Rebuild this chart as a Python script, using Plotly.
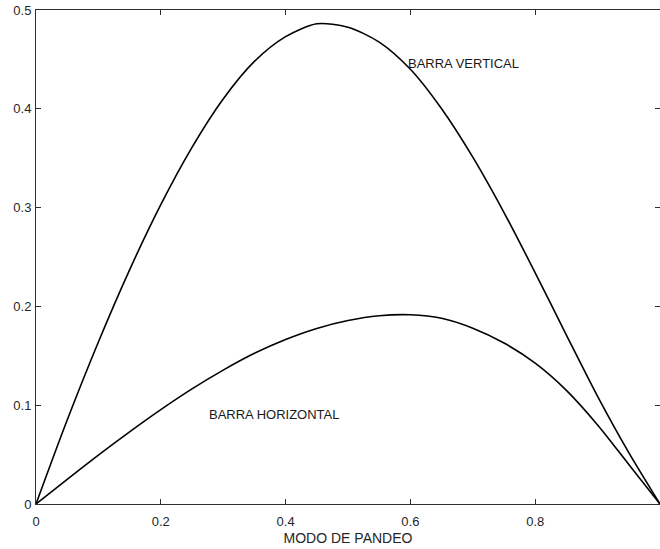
import plotly.graph_objects as go

# Mode shape samples
x_vals = [0.0, 0.05, 0.1, 0.15, 0.2, 0.25, 0.3, 0.35, 0.4, 0.45, 0.5,
          0.55, 0.6, 0.65, 0.7, 0.75, 0.8, 0.85, 0.9, 0.95, 1.0]
vertical_bar = [0.0, 0.085, 0.164, 0.237, 0.303, 0.361, 0.410, 0.448, 0.473, 0.486,
                0.4825, 0.4675, 0.440, 0.400, 0.351, 0.295, 0.234, 0.171, 0.109, 0.052, 0.0]
horizontal_bar = [0.0, 0.025, 0.0495, 0.073, 0.0955, 0.1165, 0.1355, 0.1525, 0.1665, 0.1777,
                  0.1857, 0.1905, 0.1915, 0.188, 0.178, 0.163, 0.1425, 0.115, 0.080, 0.040, 0.0]

x_ticks = [0, 0.2, 0.4, 0.6, 0.8, 1]
x_tick_text = ["0", "0.2", "0.4", "0.6", "0.8", "1"]
y_ticks = [0, 0.1, 0.2, 0.3, 0.4, 0.5]
y_tick_text = ["0", "0.1", "0.2", "0.3", "0.4", "0.5"]

labels = ["BARRA VERTICAL", "BARRA HORIZONTAL"]
label_x = [0.595, 0.2757]
label_y = [0.4462, 0.0905]

FONT = "Liberation Sans, Arial, sans-serif"

fig = go.Figure()
for ys in (vertical_bar, horizontal_bar):
    fig.add_trace(go.Scatter(x=x_vals, y=ys, mode="lines",
                             line=dict(color="black", width=1.6, shape="spline", smoothing=0.8),
                             showlegend=False, hoverinfo="skip"))

for t, xx, yy in zip(labels, label_x, label_y):
    fig.add_annotation(x=xx, y=yy, text=t, showarrow=False, xanchor="left",
                       yanchor="middle", xshift=-1,
                       font=dict(size=13, color="#1a1a1a", family=FONT))

axis_common = dict(showgrid=False, zeroline=False, showline=True, linecolor="#303030",
                   linewidth=1, mirror="ticks", ticks="inside", ticklen=5,
                   tickcolor="#303030", tickwidth=1, automargin=False,
                   tickfont=dict(size=13, color="#262626", family=FONT))

fig.update_layout(
    width=660, height=549,
    margin=dict(l=36, r=0, t=10, b=45),
    paper_bgcolor="white", plot_bgcolor="white",
    xaxis=dict(range=[0, 1], tickvals=x_ticks, ticktext=x_tick_text,
               ticklabelstandoff=5,
               title=dict(text="MODO DE PANDEO", standoff=5,
                          font=dict(size=14, color="#262626", family=FONT)),
               **axis_common),
    yaxis=dict(range=[0, 0.5], tickvals=y_ticks, ticktext=y_tick_text,
               ticklabelstandoff=1, **axis_common),
)

fig.write_html("out.html", config={"displayModeBar": False},
               post_script="document.body.style.margin='0';document.body.style.overflow='hidden';")
